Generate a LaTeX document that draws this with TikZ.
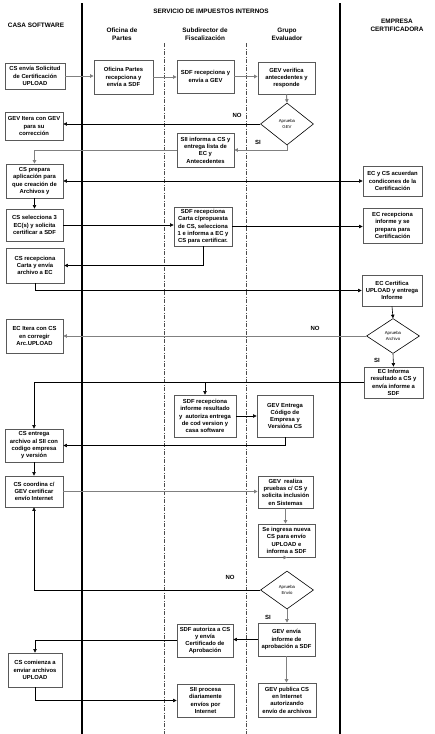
\documentclass[tikz,border=0pt]{standalone}
\usepackage{fontspec}
\setmainfont{Liberation Sans}
\usetikzlibrary{arrows.meta,shapes.geometric}
\begin{document}
\begin{tikzpicture}[x=1pt,y=-1pt,
  box/.style={draw=black!65,line width=0.9pt,fill=white,align=center,inner sep=0.5pt,
    font=\fontsize{5.85}{7.3}\selectfont\bfseries},
  dia/.style={draw=black,line width=0.6pt,fill=white,shape=diamond,inner sep=0pt,align=center,
    font=\fontsize{4.3}{5.2}\selectfont},
  hdr/.style={align=center,font=\fontsize{6.4}{8.4}\selectfont\bfseries},
  lbl/.style={font=\fontsize{6}{7}\selectfont\bfseries},
  ln/.style={draw=black,line width=0.6pt,-{Triangle[length=3.5pt,width=3.5pt]}},
  gln/.style={draw=black!50,line width=1pt,-{Triangle[length=3.5pt,width=3.5pt,fill=black]}},
  lane/.style={draw=black,line width=1.6pt},
  sublane/.style={draw=black!70,line width=0.5pt,dash pattern=on 4pt off 1.5pt on 1pt off 1.5pt}]
\useasboundingbox (0,0) rectangle (435,734);
\fill[white] (0,0) rectangle (435,734);
% lanes
\coordinate (l1t) at (82,3);   \coordinate (l1b) at (82,734);
\coordinate (l2t) at (340,3);  \coordinate (l2b) at (340,734);
\coordinate (s1t) at (164,43); \coordinate (s1b) at (164,734);
\coordinate (s2t) at (246,43); \coordinate (s2b) at (246,734);
\draw[lane] (l1t) -- (l1b);
\draw[lane] (l2t) -- (l2b);
\draw[sublane] (s1t) -- (s1b);
\draw[sublane] (s2t) -- (s2b);
% headers
\node[hdr] (h1) at (36,25) {CASA SOFTWARE};
\node[hdr] (h2) at (211,11) {SERVICIO DE IMPUESTOS INTERNOS};
\node[hdr] (h3) at (122,34) {Oficina de\\Partes};
\node[hdr] (h4) at (205,34) {Subdirector de\\Fiscalización};
\node[hdr] (h5) at (287,34) {Grupo\\Evaluador};
\node[hdr] (h6) at (397,25) {EMPRESA\\CERTIFICADORA};
% boxes
\node[box,minimum width=60,minimum height=26] (cs1) at (35,76) {CS envía Solicitud\\de Certificación\\UPLOAD};
\node[box,minimum width=59,minimum height=34] (op) at (123.5,77) {Oficina Partes\\recepciona y\\envía a SDF};
\node[box,minimum width=57,minimum height=33] (sdf1) at (205.5,76.5) {SDF recepciona y\\envía a GEV};
\node[box,minimum width=57,minimum height=32] (gev1) at (286.5,78) {GEV verifica\\antecedentes y\\responde};
\node[dia,minimum width=53,minimum height=42] (d1) at (287,124) {Aprueba\\GEV};
\node[box,minimum width=58,minimum height=28] (gevit) at (34,126) {GEV Itera con GEV\\para su\\corrección};
\node[box,minimum width=57,minimum height=34] (sii1) at (205.5,150) {SII informa a CS y\\entrega lista de\\EC y\\Antecedentes};
\node[box,minimum width=57,minimum height=34] (csprep) at (34.5,181) {CS prepara\\aplicación para\\que creación de\\Archivos y};
\node[box,minimum width=59,minimum height=30] (ecycs) at (392.5,181) {EC y CS acuerdan\\condicones de la\\Certificación};
\node[box,minimum width=57,minimum height=32] (cssel) at (34.5,225) {CS selecciona 3\\EC(s) y solicita\\certificar a SDF};
\node[box,minimum width=58,minimum height=39] (sdf2) at (203,226.5) {SDF recepciona\\Carta c/propuesta\\de CS, selecciona\\1 e informa a EC y\\CS para certificar.};
\node[box,minimum width=59,minimum height=35] (ecrec) at (392.5,225.5) {EC recepciona\\informe y se\\prepara para\\Certificación};
\node[box,minimum width=58,minimum height=35] (csrec) at (35,265.5) {CS recepciona\\Carta y envía\\archivo a EC};
\node[box,minimum width=60,minimum height=31] (eccert) at (392,290.5) {EC Certifica\\UPLOAD y entrega\\Informe};
\node[dia,minimum width=53,minimum height=35] (d2) at (393,336) {Aprueba\\Archivo};
\node[box,minimum width=57,minimum height=34] (ecit) at (34.5,336) {EC Itera con CS\\en corregir\\Arc.UPLOAD};
\node[box,minimum width=59,minimum height=31] (ecinf) at (393.5,382.5) {EC Informa\\resultado a CS y\\envía informe a\\SDF};
\node[box,minimum width=62,minimum height=42] (sdf3) at (205,416) {SDF recepciona\\informe resultado\\y\ \ autoriza entrega\\de cod version y\\casa software};
\node[box,minimum width=56,minimum height=42] (gev2) at (285,416) {GEV Entrega\\Código de\\Empresa y\\Versióna CS};
\node[box,minimum width=58,minimum height=33] (csent) at (34,445.5) {CS entrega\\archivo al SII con\\codigo empresa\\y versión};
\node[box,minimum width=58,minimum height=31] (cscoord) at (34,491.5) {CS coordina c/\\GEV certificar\\envío Internet};
\node[box,minimum width=55,minimum height=32] (gevr) at (285.5,492) {GEV\ \ realiza\\pruebas c/ CS y\\solicita inclusión\\en Sistemas};
\node[box,minimum width=57,minimum height=33] (seing) at (286.5,540.5) {Se ingresa nueva\\CS para envío\\UPLOAD e\\informa a SDF};
\node[dia,minimum width=53,minimum height=38] (d3) at (287,590) {Aprueba\\Envío};
\node[box,minimum width=57,minimum height=33] (gevenv) at (286.5,639.5) {GEV envía\\informe de\\aprobación a SDF};
\node[box,minimum width=56,minimum height=33] (sdfaut) at (205,640.5) {SDF autoriza a CS\\y envía\\Certificado de\\Aprobación};
\node[box,minimum width=54,minimum height=34] (cscom) at (35,670) {CS comienza a\\enviar archivos\\UPLOAD};
\node[box,minimum width=57,minimum height=33] (siiproc) at (205.5,700.5) {SII procesa\\diariamente\\envíos por\\Internet};
\node[box,minimum width=58,minimum height=34] (gevpub) at (287,700) {GEV publica CS\\en Internet\\autorizando\\envío de archivos};
% connectors
\draw[gln] (cs1.east) -- (cs1.east -| op.west);
\draw[gln] (op.east) -- (op.east -| sdf1.west);
\draw[gln] (sdf1.east) -- (sdf1.east -| gev1.west);
\draw[gln] (gev1.south) -- (d1.north);
\draw[ln] (d1.west) -- (d1.west -| gevit.east);
\node[lbl] (no1) at (237,115) {NO};
\draw[gln] (d1.south) |- (sii1.east);
\node[lbl] (si1) at (258,142) {SI};
\draw[gln] (sii1.west) -| (csprep.north);
\draw[ln,{Triangle[length=3.5pt,width=3.5pt]}-{Triangle[length=3.5pt,width=3.5pt]}] (csprep.east) -- (ecycs.west);
\draw[ln] (csprep.south) -- (cssel.north);
\draw[ln] (cssel.east) -- (cssel.east -| sdf2.west);
\draw[ln] (sdf2.east) -- (sdf2.east -| ecrec.west);
\draw[ln] (sdf2.south) |- (csrec.east);
\draw[ln] (csrec.south) |- (eccert.west);
\draw[ln] (eccert.south) -- (d2.north);
\draw[gln] (d2.west) -- (d2.west -| ecit.east);
\node[lbl] (no2) at (315,328) {NO};
\draw[ln] (d2.south) -- (ecinf.north);
\node[lbl] (si2) at (377,360) {SI};
\coordinate (j1) at (ecinf.west -| sdf3.north);
\draw[ln] (ecinf.west) -| (csent.north);
\draw[ln] (j1) -- (sdf3.north);
\draw[ln] (sdf3.east) -- (sdf3.east -| gev2.west);
\draw[ln] (gev2.south) |- (csent.east);
\draw[ln] (csent.south) -- (cscoord.north);
\draw[gln] (cscoord.east) -- (cscoord.east -| gevr.west);
\draw[gln] (gevr.south) -- (gevr.south |- seing.north);
\draw[gln] (seing.south) -- (seing.south -| d3.north);
\draw[ln] (d3.west) -| (cscoord.south);
\node[lbl] (no3) at (230,577) {NO};
\draw[gln] (d3.south) -- (d3.south |- gevenv.north);
\node[lbl] (si3) at (268,617) {SI};
\draw[ln] (gevenv.west) -- (gevenv.west -| sdfaut.east);
\draw[ln] (sdfaut.west) -| (cscom.north);
\draw[ln] (cscom.south) |- (siiproc.west);
\draw[gln] (gevenv.south) -- (gevenv.south |- gevpub.north);
\end{tikzpicture}
\end{document}
